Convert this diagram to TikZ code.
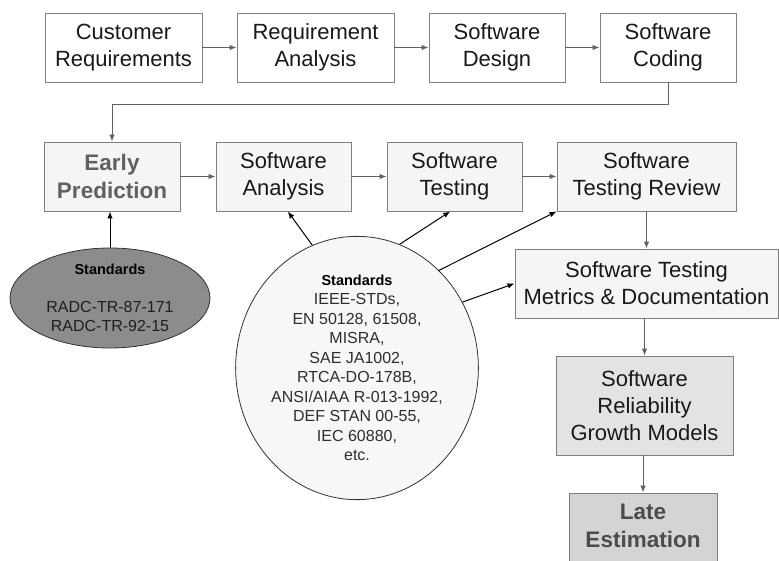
\documentclass[tikz,border=0pt]{standalone}
\usepackage{fontspec}
\setmainfont{Liberation Sans}
\usepackage{xcolor}
\usepackage{tikz}
\usetikzlibrary{arrows.meta, positioning, shapes.geometric}

\begin{document}
\begin{tikzpicture}[
    x=1pt, y=-1pt,
    stage/.style={draw=black!50, line width=0.9pt, rectangle, align=center, inner sep=2pt,
                  minimum height=69pt, text=black!90, font=\fontsize{22}{27}\selectfont},
    phase/.style={stage, fill=black!4},
    result/.style={font=\fontsize{22.5}{28}\selectfont\bfseries, text=black!62},
    flow/.style={-{Latex[length=7pt, width=5.5pt]}, line width=1pt, draw=black!62},
    feed/.style={-{Latex[length=7pt, width=5.5pt]}, line width=1pt, draw=black},
    stdnote/.style={draw=black!80, line width=0.8pt, ellipse, inner sep=0pt, align=center,
                    font=\fontsize{16}{19.5}\selectfont}
]

    % Cadre de l'image
    \useasboundingbox (0,0) rectangle (779,560);
    \clip (0,0) rectangle (779,560);

    % ── Phases de developpement (ligne du haut) ──
    \node[stage, minimum width=157pt] (cust)   at (123.5, 47.5) {Customer\\Requirements};
    \node[stage, minimum width=157pt] (reqan)  at (315.5, 47.5) {Requirement\\Analysis};
    \node[stage, minimum width=136pt] (design) at (497, 47.5)   {Software\\Design};
    \node[stage, minimum width=136pt] (coding) at (668, 47.5)   {Software\\Coding};

    % ── Phases de test (deuxieme ligne) ──
    \node[phase, result, minimum width=136pt] (early) at (112, 176.5) {Early\\Prediction};
    \node[phase, minimum width=135pt] (swan)   at (283.5, 176.5) {Software\\Analysis};
    \node[phase, minimum width=135pt] (swtest) at (454.5, 176.5) {Software\\Testing};
    \node[phase, minimum width=179pt] (review) at (646.5, 176.5) {Software\\Testing Review};

    % ── Colonne de droite ──
    \node[phase, minimum width=263pt] (metrics) at (646.5, 283.5) {Software Testing\\Metrics \& Documentation};
    \node[stage, fill=black!11, minimum width=177pt, minimum height=99pt] (srgm) at (644.5, 405.5)
        {Software\\Reliability\\Growth Models};
    \node[stage, result, fill=black!17, text=black!70, minimum width=148pt, minimum height=70pt, text depth=4pt]
        (late) at (643, 528) {Late\\Estimation};

    % ── Normes ──
    \node[stdnote, fill=black!45, text=black!88, minimum width=200pt, minimum height=100pt] (stdold) at (110, 298)
        {{\fontsize{14.5}{19}\selectfont\bfseries\color{black} Standards}\\[18pt]RADC-TR-87-171\\RADC-TR-92-15};
    \node[stdnote, fill=black!3, text=black!82, minimum width=218pt, minimum height=236pt] (stdnew) at (357, 368)
        {{\fontsize{14.5}{19}\selectfont\bfseries\color{black} Standards}\\IEEE-STDs,\\EN 50128, 61508,\\MISRA,\\SAE JA1002,\\RTCA-DO-178B,\\ANSI/AIAA R-013-1992,\\DEF STAN 00-55,\\IEC 60880,\\etc.};

    % ── Enchainement des phases ──
    \draw[flow] (cust) -- (reqan);
    \draw[flow] (reqan) -- (design);
    \draw[flow] (design) -- (coding);
    \draw[flow] (coding.south) -- ++(0,22) -| (early.north);
    \draw[flow] (early) -- (swan);
    \draw[flow] (swan) -- (swtest);
    \draw[flow] (swtest) -- (review);
    \draw[flow] (review) -- (metrics);
    \draw[flow] (metrics.south -| srgm.north) -- (srgm.north);
    \draw[flow] (srgm.south -| late.north) -- (late.north);

    % ── Apports des normes ──
    \draw[feed] (stdold.north) -- (stdold.north |- early.south);
    \draw[feed] (stdnew.110) -- (swan.277);
    \draw[feed] (stdnew.71) -- (swtest.263);
    \draw[feed] (stdnew.50) -- (review.south west);
    \draw[feed] (stdnew.32) -- (metrics.west);

\end{tikzpicture}
\end{document}
